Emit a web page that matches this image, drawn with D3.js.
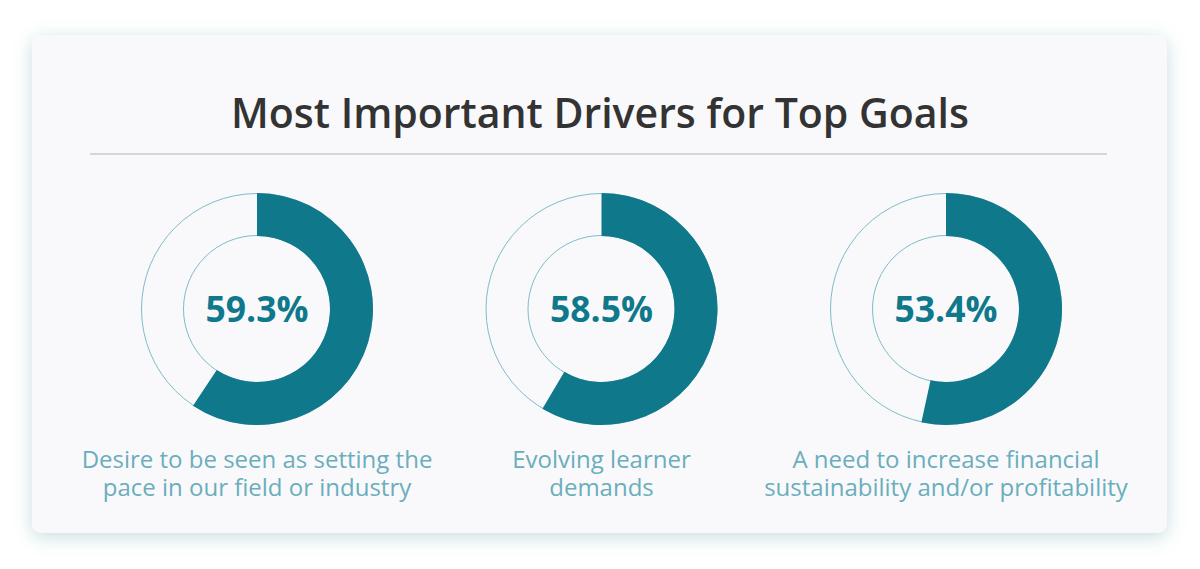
<!DOCTYPE html>
<html>
<head>
<meta charset="utf-8">
<script src="https://cdn.jsdelivr.net/npm/d3@7"></script>
<style>
  html, body { margin: 0; padding: 0; background: #ffffff; }
  svg { display: block; }
</style>
</head>
<body>
<svg id="chart" width="1200" height="569"></svg>
<script>
const title = "Most Important Drivers for Top Goals";
const categories = ["Desire to be seen as setting the pace in our field or industry",
                    "Evolving learner demands",
                    "A need to increase financial sustainability and/or profitability"];
const labelLines = [["Desire to be seen as setting the", "pace in our field or industry"],
                    ["Evolving learner", "demands"],
                    ["A need to increase financial", "sustainability and/or profitability"]];
const values = [59.3, 58.5, 53.4];

const W = 1200, H = 569;
const svg = d3.select("#chart");

// shadow filter
const defs = svg.append("defs");
const f = defs.append("filter").attr("id", "shadow")
  .attr("x", "-10%").attr("y", "-20%").attr("width", "120%").attr("height", "140%");
f.append("feDropShadow").attr("dx", 0).attr("dy", 4).attr("stdDeviation", 9)
  .attr("flood-color", "#5f9fab").attr("flood-opacity", 0.35);

// card
svg.append("rect")
  .attr("x", 32).attr("y", 35).attr("width", 1135).attr("height", 498)
  .attr("rx", 9).attr("ry", 9)
  .attr("fill", "#f9f9fc")
  .attr("filter", "url(#shadow)");

// title
svg.append("text")
  .attr("x", 600).attr("y", 128)
  .attr("text-anchor", "middle")
  .attr("font-family", "'Open Sans', sans-serif")
  .attr("font-weight", 600)
  .attr("font-size", 41)
  .attr("fill", "#333333")
  .text(title);

// separator
svg.append("line")
  .attr("x1", 90).attr("x2", 1107).attr("y1", 154).attr("y2", 154)
  .attr("stroke", "#d6d6d6").attr("stroke-width", 2);

// scales
const x = d3.scalePoint().domain(categories).range([257, 946]);
const angle = d3.scaleLinear().domain([0, 100]).range([0, 2 * Math.PI]);
const cy = 309, rOuter = 116, rInner = 73;

const ringArc = d3.arc().innerRadius(rInner).outerRadius(rOuter);

const g = svg.selectAll("g.donut")
  .data(categories.map((c, i) => ({ c, v: values[i], lines: labelLines[i] })))
  .join("g")
  .attr("class", "donut")
  .attr("transform", d => `translate(${x(d.c)},${cy})`);

// background ring outlines
g.append("circle").attr("r", rOuter - 0.5)
  .attr("fill", "none").attr("stroke", "#7fbcc7").attr("stroke-width", 1);
g.append("circle").attr("r", rInner + 0.5)
  .attr("fill", "none").attr("stroke", "#7fbcc7").attr("stroke-width", 1);

// value arc
g.append("path")
  .attr("d", d => ringArc({ startAngle: 0, endAngle: angle(d.v) }))
  .attr("fill", "#0f788b");

// percent text
g.append("text")
  .attr("y", 13)
  .attr("text-anchor", "middle")
  .attr("font-family", "'Open Sans', sans-serif")
  .attr("font-weight", 700)
  .attr("font-size", 35.5)
  .attr("fill", "#0f788b")
  .text(d => d3.format(".1f")(d.v) + "%");

// labels (one text per line)
g.each(function(d) {
  const gg = d3.select(this);
  d.lines.forEach((line, i) => {
    gg.append("text")
      .attr("x", 0)
      .attr("y", 468 - cy + i * 28)
      .attr("text-anchor", "middle")
      .attr("font-family", "'Open Sans', sans-serif")
      .attr("font-size", 24)
      .attr("fill", "#6aaebc")
      .text(line);
  });
});
</script>
</body>
</html>
